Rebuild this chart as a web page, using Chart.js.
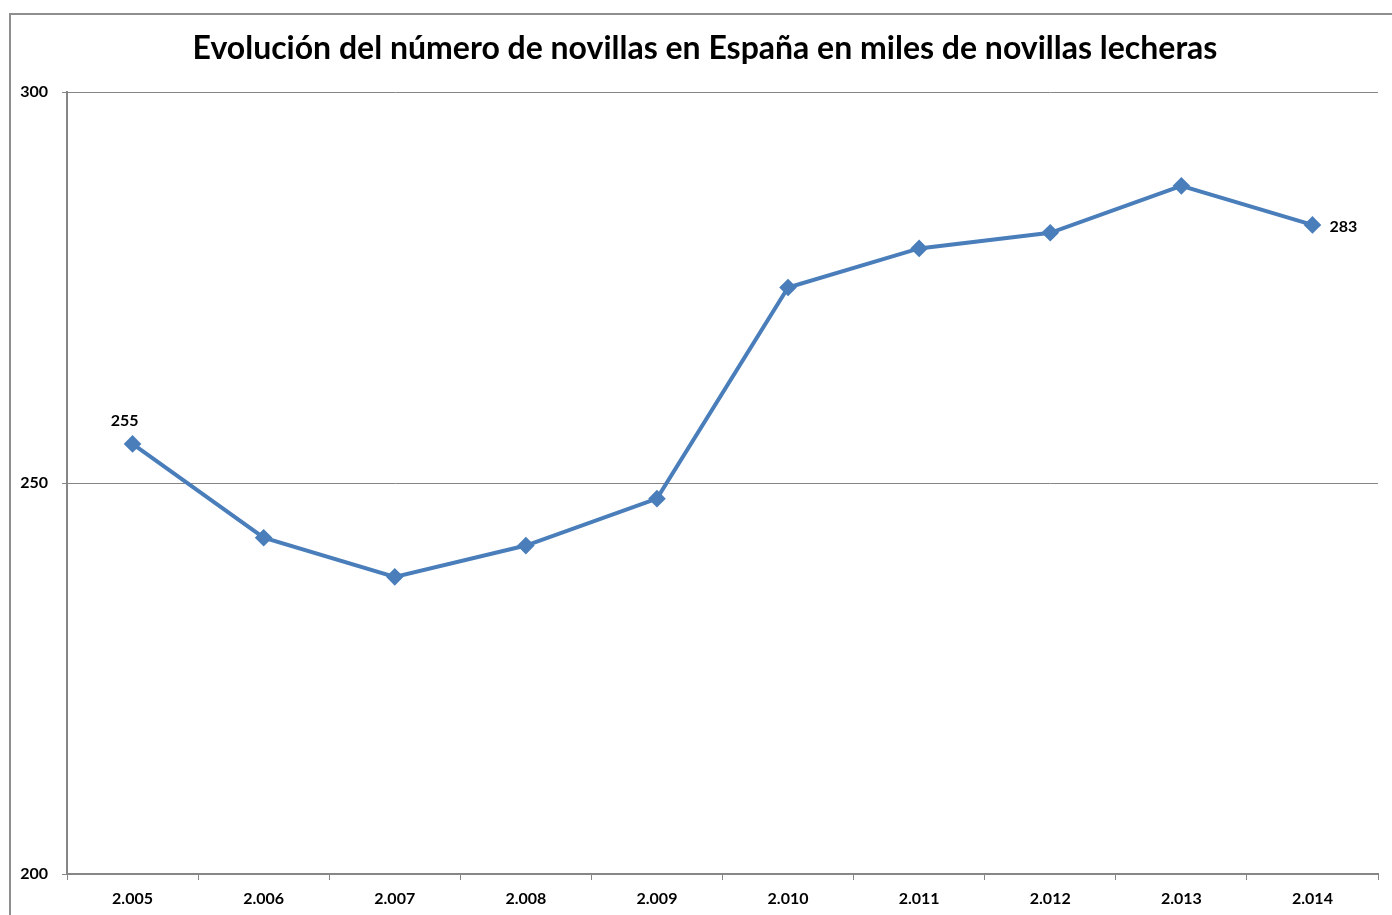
<!DOCTYPE html>
<html>
<head>
<meta charset="utf-8">
<script src="https://cdn.jsdelivr.net/npm/chart.js@4.4.1/dist/chart.umd.min.js"></script>
<style>
body{margin:0;background:#fff;overflow:hidden}
#wrap{position:relative;width:1392px;height:915px}
#frame{position:absolute;left:9px;top:13px;width:1400px;height:920px;border:2px solid #8e8e8e;box-sizing:border-box}
canvas{position:absolute;left:0;top:0}
</style>
</head>
<body>
<div id="wrap">
<div id="frame"></div>
<canvas id="myChart" width="1392" height="915"></canvas>
</div>
<script>
var years=["2.005","2.006","2.007","2.008","2.009","2.010","2.011","2.012","2.013","2.014"]
var novillas=[255,243,238,242,248,275,280,282,288,283]
var yTicks=[200,250,300]
var titulo="Evolución del número de novillas en España en miles de novillas lecheras"
var fontFam="Lato, 'Open Sans', sans-serif"

// titulo y etiquetas de datos (solo primero y ultimo)
var extras={
    id:'extras',
    afterDraw:function(chart){
        var ctx=chart.ctx
        ctx.save()
        ctx.fillStyle='#000'
        ctx.font='bold 32px '+fontFam
        ctx.textAlign='center'
        ctx.textBaseline='middle'
        ctx.fillText(titulo,705,49)

        var meta=chart.getDatasetMeta(0)
        ctx.font='bold 16px '+fontFam
        var p0=meta.data[0]
        ctx.fillText(novillas[0],p0.x-8,p0.y-23)
        var last=meta.data.length-1
        var pl=meta.data[last]
        ctx.textAlign='left'
        ctx.fillText(novillas[last],pl.x+17,pl.y+2)
        ctx.restore()
    }
}

var myChart=document.getElementById("myChart").getContext('2d')
var chart=new Chart(myChart,{
    type:'line',
    data:{
        labels:years,
        datasets:[
            {
                label:"Novillas",
                data:novillas,
                borderColor:"#4a7ebb",
                backgroundColor:"#4a7ebb",
                borderWidth:4,
                pointStyle:'rectRot',
                pointRadius:6,
                pointHoverRadius:6,
                tension:0
            }
        ]
    },
    options:{
        responsive:false,
        animation:false,
        layout:{padding:{top:92,right:14,left:0,bottom:0}},
        plugins:{legend:{display:false},tooltip:{enabled:false},title:{display:false}},
        scales:{
            x:{
                offset:true,
                afterFit:function(s){s.height=41},
                grid:{offset:true,drawOnChartArea:false,drawTicks:true,tickLength:6,color:'#868686',lineWidth:1},
                border:{color:'#868686',width:2},
                ticks:{color:'#000',font:{family:fontFam,size:16,weight:'bold'},padding:9,maxRotation:0}
            },
            y:{
                min:200,
                max:300,
                afterFit:function(s){s.width=67},
                afterBuildTicks:function(s){s.ticks=yTicks.map(function(v){return {value:v}})},
                grid:{color:'#868686',lineWidth:1,drawTicks:true,tickLength:5},
                border:{color:'#868686',width:2},
                ticks:{color:'#000',font:{family:fontFam,size:16,weight:'bold'},padding:14}
            }
        }
    },
    plugins:[extras]
})
</script>
</body>
</html>
